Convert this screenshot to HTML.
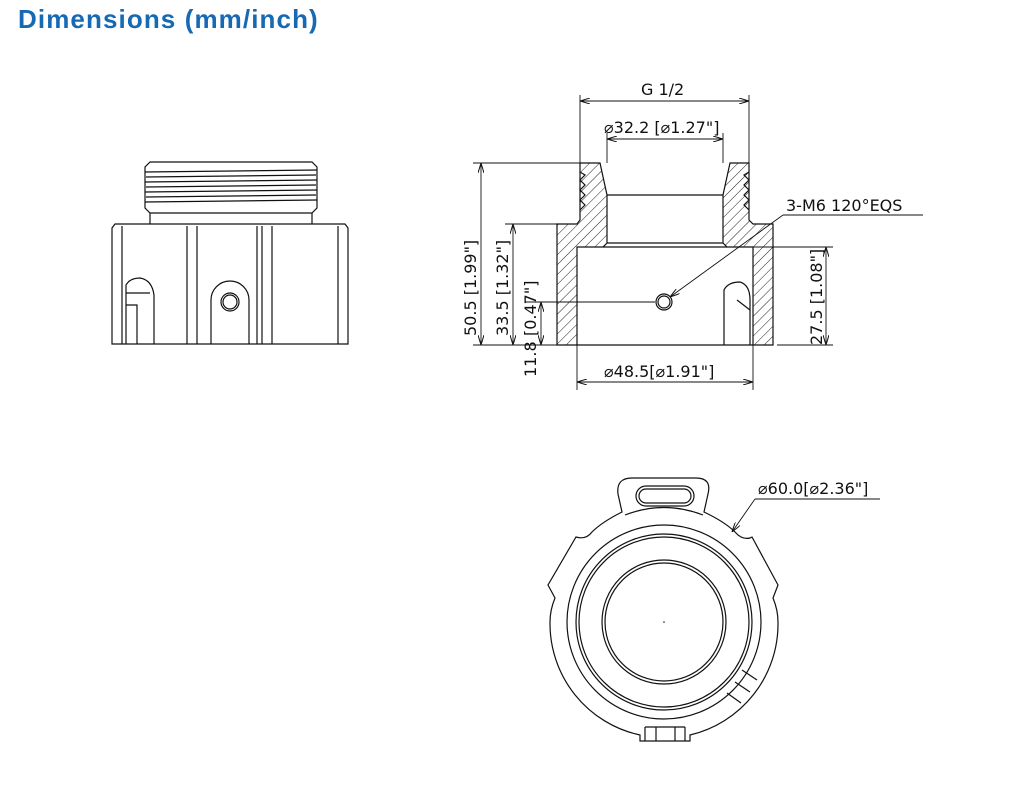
<!DOCTYPE html>
<html><head><meta charset="utf-8"><style>
body{margin:0;background:#fff;width:1011px;height:789px;overflow:hidden;position:relative;font-family:"Liberation Sans",sans-serif}
.t{position:absolute;left:18px;top:4px;font-size:26px;font-weight:bold;color:#1669b3;letter-spacing:1.1px}
svg{position:absolute;left:0;top:0}
text{font-family:"DejaVu Sans","Liberation Sans",sans-serif;font-size:16px;fill:#111}
</style></head><body>
<div class="t">Dimensions (mm/inch)</div>
<svg width="1011" height="789" viewBox="0 0 1011 789">
<defs>
<pattern id="h" width="7" height="7" patternUnits="userSpaceOnUse" patternTransform="rotate(45)">
<line x1="0" y1="0" x2="0" y2="7" stroke="#222" stroke-width="1"/></pattern>
<marker id="a" viewBox="0 0 10 6" refX="10" refY="3" markerWidth="10" markerHeight="6" orient="auto-start-reverse" markerUnits="userSpaceOnUse"><path d="M0,0 L10,3 L0,6" fill="none" stroke="#111" stroke-width="1"/></marker>
</defs>
<g fill="none" stroke="#111" stroke-width="1.2">
<path d="M150,162 L312,162 L317,167 L317,208 L312,213 L150,213 L145,208 L145,167 Z"/>
<path d="M145,172 L317,170 M145,182 L317,180 M145,192 L317,190 M145,202 L317,200 M146,177 L316,175 M146,187 L316,185 M146,197 L316,195"/>
<path d="M150,213 L150,224 M312,213 L312,224"/>
<path d="M115,224 L345,224 L348,228 L348,344 L112,344 L112,228 Z"/>
<path d="M122,226 L122,344 M187,226 L187,344 M197,226 L197,344 M257,226 L257,344 M262,226 L262,344 M272,226 L272,344 M338,226 L338,344"/>
<path d="M211,344 L211,300 A19,19 0 0 1 249,300 L249,344"/>
<circle cx="230" cy="302" r="9"/><circle cx="230" cy="302" r="7"/>
<path d="M126,344 L126,285 Q130,278 140,278 Q152,280 154,295 L154,344 M126,305 L137,305 L137,344 M126,293 L150,293"/>
<path d="M557,224 L577,224 L580,220 L580,163 L600,163 L607,195 L607,243 L603,247 L577,247 L577,345 L557,345 Z" fill="url(#h)"/>
<path d="M773,224 L753,224 L749,220 L749,163 L730,163 L723,195 L723,243 L727,247 L753,247 L753,345 L773,345 Z" fill="url(#h)"/>
<path d="M580,172 L585,175 L580,180 L585,185 L580,190 L585,195 L580,200 L585,205 L580,210 M749,172 L744,175 L749,180 L744,185 L749,190 L744,195 L749,200 L744,205 L749,210"/>
<path d="M607,195 L723,195 M603,247 L727,247 M577,345 L753,345 M607,243 L723,243"/>
<path d="M724,345 L724,290 Q728,282 740,282 Q750,285 750,300 L750,345 M737,300 L750,310"/>
<circle cx="664" cy="302" r="8"/><circle cx="664" cy="302" r="6"/>
</g>
<g fill="none" stroke="#111" stroke-width="0.9">
<path d="M580,95 L580,163 M749,95 L749,163"/>
<line x1="580" y1="101" x2="749" y2="101" marker-start="url(#a)" marker-end="url(#a)"/>
<path d="M607,133 L607,163 M723,133 L723,163"/>
<line x1="607" y1="139" x2="723" y2="139" marker-start="url(#a)" marker-end="url(#a)"/>
<path d="M473,163 L580,163 M505,224 L557,224 M473,345 L557,345 M753,247 L833,247 M777,345 L833,345 M525,302 L655,302"/>
<line x1="481" y1="163" x2="481" y2="345" marker-start="url(#a)" marker-end="url(#a)"/>
<line x1="513" y1="224" x2="513" y2="345" marker-start="url(#a)" marker-end="url(#a)"/>
<line x1="541" y1="302" x2="541" y2="345" marker-start="url(#a)" marker-end="url(#a)"/>
<line x1="826" y1="247" x2="826" y2="345" marker-start="url(#a)" marker-end="url(#a)"/>
<path d="M577,345 L577,390 M753,345 L753,390"/>
<line x1="577" y1="382" x2="753" y2="382" marker-start="url(#a)" marker-end="url(#a)"/>
<path d="M923,215 L783,215"/>
<line x1="783" y1="215" x2="670" y2="297" marker-end="url(#a)"/>
<path d="M880,499 L755,499"/>
<line x1="755" y1="499" x2="732" y2="532" marker-end="url(#a)"/>
</g>
<text x="641" y="95">G 1/2</text>
<text x="604" y="133" font-size="15">⌀32.2 [⌀1.27"]</text>
<text x="786" y="211">3-M6 120°EQS</text>
<text x="604" y="377" font-size="15">⌀48.5[⌀1.91"]</text>
<text transform="translate(476,336) rotate(-90)">50.5 [1.99"]</text>
<text transform="translate(508,336) rotate(-90)">33.5 [1.32"]</text>
<text transform="translate(536,336) rotate(-90)">[0.47"]</text>
<text transform="translate(536,377) rotate(-90)">11.8</text>
<text transform="translate(822,345) rotate(-90)">27.5 [1.08"]</text>
<text x="758" y="494" font-size="15">⌀60.0[⌀2.36"]</text>
<g fill="none" stroke="#111" stroke-width="1.2">
<path d="M622,512 L618,494 Q616,478 632,478 L696,478 Q712,478 708,494 L704,512 Q725,522 735,532 Q742,540 750,538 L752,537 L778,585 L773,598 Q778,610 778,622 A114,114 0 0 1 690,735 L690,741 L640,741 L640,735 A114,114 0 0 1 550,622 Q550,610 555,598 L548,585 L576,537 Q586,540 592,532 Q602,522 622,512 Z"/>
<path d="M625,515 Q664,500 703,515"/>
<rect x="636" y="486" width="58" height="20" rx="10"/>
<rect x="639" y="489" width="52" height="14" rx="7"/>
<circle cx="664" cy="622" r="88"/><circle cx="664" cy="622" r="85"/>
<circle cx="664" cy="622" r="97"/>
<circle cx="664" cy="622" r="62"/><circle cx="664" cy="622" r="59"/>
<path d="M645,727 L645,741 M656,727 L656,741 M675,727 L675,741 M685,727 L685,741 M645,727 L685,727"/>
<path d="M742,670 L757,680 M735,682 L750,692 M727,693 L741,703"/>
</g>
<circle cx="664" cy="622" r="0.8" fill="#111"/>
</svg>
</body></html>
